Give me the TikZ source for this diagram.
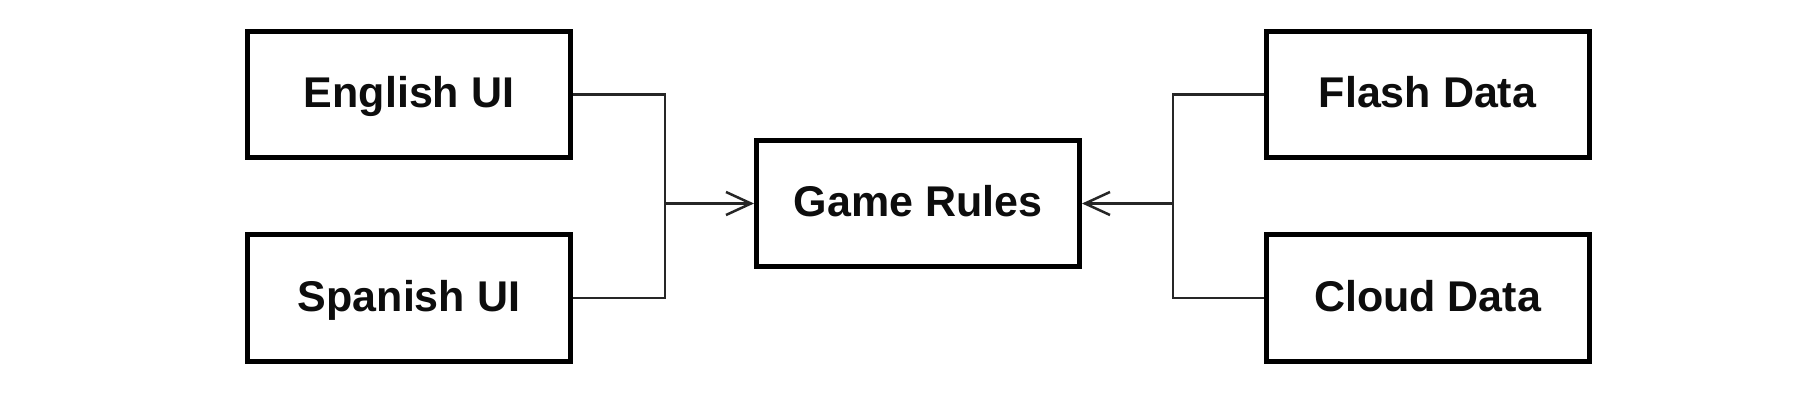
\documentclass[tikz,border=0pt]{standalone}
\usepackage{fontspec}
\setmainfont{Liberation Sans}
\usetikzlibrary{arrows.meta}
\begin{document}
\begin{tikzpicture}[x=1pt,y=1pt,
  box/.style={draw=black, line width=5pt, minimum width=323pt, minimum height=126pt,
    inner sep=0pt, text height=31pt, text depth=5pt,
    font=\fontsize{43}{50}\selectfont\bfseries, text=black!95},
  conn/.style={draw=black!85, line width=2.5pt},
  arr/.style={conn, -{Straight Barb[length=25pt,width=23pt,line width=2.5pt]}}]
\useasboundingbox[fill=white] (0,0) rectangle (1820,410);
\node[box] (eng) at (409,315.5) {English UI};
\node[box] (spa) at (409,112) {Spanish UI};
\node[box] (game) at (918,206.5) {Game Rules};
\node[box] (fla) at (1427.5,315.5) {Flash Data};
\node[box] (clo) at (1427.5,112) {Cloud Data};
\coordinate (jl) at (665,206.5);
\coordinate (jr) at (1173,206.5);
\draw[conn] (eng.east) -| (jl) |- (spa.east);
\draw[arr] (jl) -- (game.west);
\draw[conn] (fla.west) -| (jr) |- (clo.west);
\draw[arr] (jr) -- (game.east);
\end{tikzpicture}
\end{document}
